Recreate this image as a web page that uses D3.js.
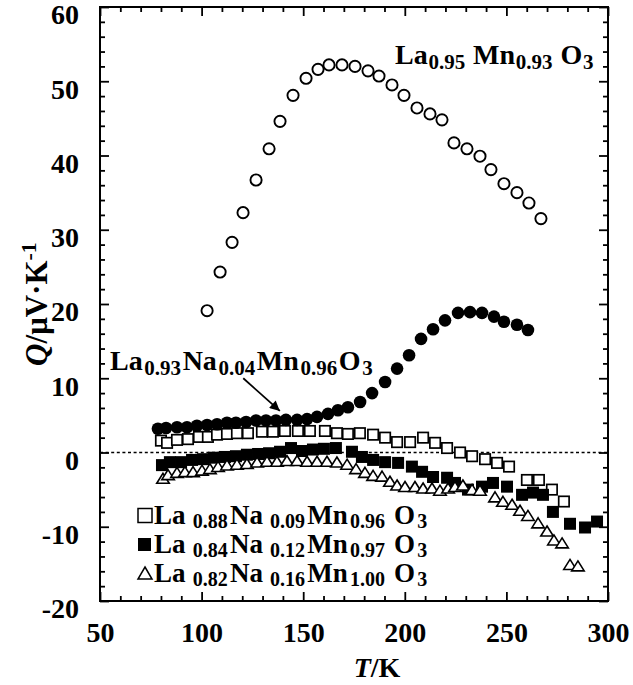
<!DOCTYPE html>
<html><head><meta charset="utf-8">
<script src="https://cdn.jsdelivr.net/npm/d3@7"></script>
<style>body{margin:0;background:#fff}</style>
</head><body><svg id="c" width="633" height="685"></svg>
<script>
// ---------- data ----------
const xTickValues = [50,100,150,200,250,300];
const yTickValues = [-20,-10,0,10,20,30,40,50,60];

// La0.95Mn0.93O3 (open circles)
const openCircT = [102.7,109.1,115.0,120.4,126.8,133.2,138.6,145.0,151.4,157.3,162.7,169.1,175.5,181.9,187.3,193.7,199.6,206.0,212.4,218.3,224.2,230.6,237.0,242.4,248.8,255.2,261.1,267.0];
const openCircQ = [19.1,24.3,28.3,32.3,36.7,40.9,44.6,48.1,50.4,51.6,52.2,52.2,52.0,51.4,50.7,49.5,48.1,46.4,45.6,44.8,41.7,40.9,39.9,38.1,36.2,35.0,33.6,31.5];

// La0.93Na0.04Mn0.96O3 (filled circles)
const filledCircT = [78.5,82.5,87.9,92.8,97.7,102.7,107.6,112.5,116.9,121.9,126.8,131.7,136.6,141.5,147.0,151.9,156.8,162.2,167.1,172.0,178.0,183.9,190.3,196.2,202.1,208.0,213.9,219.8,226.2,232.1,238.0,243.9,248.8,255.2,260.6];
const filledCircQ = [3.2,3.3,3.4,3.4,3.6,3.7,3.8,4.0,4.0,4.1,4.3,4.3,4.3,4.4,4.4,4.5,4.8,5.2,5.7,6.1,6.8,8.0,9.5,11.3,13.1,15.3,16.6,17.8,18.8,18.9,18.8,18.3,17.6,17.2,16.5];

// La0.88Na0.09Mn0.96O3 (open squares)
const openSqT = [80.0,83.0,87.9,93.3,98.7,103.1,107.6,112.5,117.4,122.8,129.7,135.1,141.0,147.4,153.3,160.7,166.6,172.0,177.9,184.4,190.3,196.2,202.6,209.0,214.9,220.8,227.2,233.1,239.5,245.4,251.3,260.1,266.0,272.4,278.3];
const openSqQ = [1.6,1.3,1.7,1.8,2.1,2.1,2.4,2.5,2.6,2.6,2.8,2.8,2.9,2.9,2.9,2.9,2.6,2.5,2.6,2.4,2.0,1.4,1.4,2.0,1.3,0.6,0.0,-0.5,-0.9,-1.4,-1.9,-3.7,-3.7,-5.0,-6.6];

// La0.84Na0.12Mn0.97O3 (filled squares)
const filledSqT = [80.5,84.4,89.9,95.3,100.7,106.1,111.5,116.9,122.3,127.8,133.2,138.6,144.0,149.4,154.8,160.2,166.1,174.0,178.9,184.4,190.3,196.7,203.5,208.5,213.9,220.8,224.7,231.1,238.0,243.4,250.3,257.7,263.1,268.0,272.9,281.3,288.7,294.6];
const filledSqQ = [-1.7,-1.3,-1.3,-1.0,-0.9,-0.7,-0.6,-0.5,-0.3,-0.2,-0.1,0.1,0.6,0.2,0.4,0.5,0.6,0.1,-0.6,-1.0,-1.3,-1.4,-1.9,-2.6,-3.3,-3.4,-4.1,-5.0,-4.6,-4.1,-4.6,-5.7,-5.4,-5.7,-8.0,-9.6,-10.1,-9.3];

// La0.82Na0.16Mn1.00O3 (open triangles)
const triT = [81.0,83.5,87.9,91.8,95.8,100.2,104.1,108.1,112.5,117.4,122.3,127.3,132.2,137.1,142.0,147.0,151.9,156.8,161.7,166.6,171.6,176.0,180.4,184.4,188.8,192.7,196.2,200.1,205.0,209.0,213.4,217.3,221.3,224.7,228.6,233.1,237.0,244.4,248.3,252.8,256.7,260.6,265.6,270.0,273.4,277.4,281.3,285.2];
const triQ = [-3.7,-3.2,-2.9,-2.8,-2.8,-2.6,-2.4,-2.1,-1.9,-1.8,-1.7,-1.5,-1.4,-1.4,-1.3,-1.3,-1.4,-1.4,-1.4,-1.5,-1.8,-2.4,-2.9,-3.3,-3.4,-4.1,-4.6,-4.8,-4.8,-5.0,-5.0,-5.3,-5.0,-4.8,-4.6,-5.2,-5.3,-6.2,-6.8,-7.2,-8.0,-8.7,-9.7,-10.8,-12.0,-12.4,-15.3,-15.5];

// labels
const labelTop = [["La",0],["0.95",1],[" Mn",0],["0.93",1],[" O",0],["3",1]];
const labelNa04 = [["La",0],["0.93",1],["Na",0],["0.04",1],["Mn",0],["0.96",1],["O",0],["3",1]];
const legendRows = [
  {sym:"openSq",  parts:[["La",0],[" 0.88",1],["Na",0],[" 0.09",1],["Mn",0],["0.96",1],[" O",0],["3",1]]},
  {sym:"filledSq",parts:[["La",0],[" 0.84",1],["Na",0],[" 0.12",1],["Mn",0],["0.97",1],[" O",0],["3",1]]},
  {sym:"tri",     parts:[["La",0],[" 0.82",1],["Na",0],[" 0.16",1],["Mn",0],["1.00",1],[" O",0],["3",1]]}
];

// ---------- drawing ----------
const FONT = "Liberation Serif, Times New Roman, serif";
const svg = d3.select("#c");
const L=100, R=608, T=7, B=601;
const x = d3.scaleLinear([50,300],[L,R]);
const y = d3.scaleLinear([-20,60],[B,T]);

function zip(a,b){return a.map((v,i)=>({t:v,q:b[i]}));}

const minorX = d3.range(50,301,10).filter(v=>v%50!==0);
const minorY = d3.range(-20,61,2).filter(v=>v%10!==0);

function styleAxis(g){
  g.attr("font-family",FONT);
  g.select(".domain").remove();
  g.selectAll(".tick line").attr("stroke","#000").attr("stroke-width",1.8);
  g.selectAll("text").attr("font-family",FONT).attr("font-weight","bold").attr("font-size",28).attr("fill","#000");
}
const fmt = d=>String(d);
svg.append("g").attr("transform",`translate(0,${B})`)
  .call(d3.axisBottom(x).tickValues(xTickValues).tickSize(-9).tickPadding(21).tickFormat(fmt)).call(styleAxis);
svg.append("g").attr("transform",`translate(0,${B})`)
  .call(d3.axisBottom(x).tickValues(minorX).tickSize(-5).tickFormat("")).call(styleAxis);
svg.append("g").attr("transform",`translate(0,${T})`)
  .call(d3.axisTop(x).tickValues(xTickValues).tickSize(-9).tickFormat("")).call(styleAxis);
svg.append("g").attr("transform",`translate(0,${T})`)
  .call(d3.axisTop(x).tickValues(minorX).tickSize(-5).tickFormat("")).call(styleAxis);
const ly = svg.append("g").attr("transform",`translate(${L},0)`)
  .call(d3.axisLeft(y).tickValues(yTickValues).tickSize(-9).tickPadding(21).tickFormat(fmt)).call(styleAxis);
ly.selectAll("text").attr("dy","0.6em");
svg.append("g").attr("transform",`translate(${L},0)`)
  .call(d3.axisLeft(y).tickValues(minorY).tickSize(-5).tickFormat("")).call(styleAxis);
svg.append("g").attr("transform",`translate(${R},0)`)
  .call(d3.axisRight(y).tickValues(yTickValues).tickSize(-9).tickFormat("")).call(styleAxis);
svg.append("g").attr("transform",`translate(${R},0)`)
  .call(d3.axisRight(y).tickValues(minorY).tickSize(-5).tickFormat("")).call(styleAxis);

// frame
svg.append("rect").attr("x",L).attr("y",T).attr("width",R-L).attr("height",B-T)
  .attr("fill","none").attr("stroke","#000").attr("stroke-width",2);

// zero dotted line
svg.append("line").attr("x1",x(50)).attr("x2",x(300)).attr("y1",y(0)).attr("y2",y(0))
  .attr("stroke","#000").attr("stroke-width",1.3).attr("stroke-dasharray","3,2.6");

// symbols
function triPath(w,h){return `M0,${-h*2/3}L${w/2},${h/3}L${-w/2},${h/3}Z`;}
function drawSym(g, type, cx, cy){
  if(type==="openCirc") g.append("circle").attr("cx",cx).attr("cy",cy).attr("r",5.6).attr("fill","#fff").attr("stroke","#000").attr("stroke-width",1.9);
  else if(type==="filledCirc") g.append("circle").attr("cx",cx).attr("cy",cy).attr("r",6.3).attr("fill","#000");
  else if(type==="openSq") g.append("rect").attr("x",cx-5.2).attr("y",cy-5.2).attr("width",10.4).attr("height",10.4).attr("fill","#fff").attr("stroke","#000").attr("stroke-width",1.7);
  else if(type==="filledSq") g.append("rect").attr("x",cx-6).attr("y",cy-6).attr("width",12).attr("height",12).attr("fill","#000");
  else if(type==="tri") g.append("path").attr("d",triPath(12.5,10)).attr("transform",`translate(${cx},${cy})`).attr("fill","#fff").attr("stroke","#000").attr("stroke-width",1.6);
}
const series = [
  ["openCirc", zip(openCircT,openCircQ)],
  ["openSq", zip(openSqT,openSqQ)],
  ["filledCirc", zip(filledCircT,filledCircQ)],
  ["filledSq", zip(filledSqT,filledSqQ)],
  ["tri", zip(triT,triQ)]
];
const gm = svg.append("g");
series.forEach(([type,data])=>{
  const g = gm.append("g");
  data.forEach(d=>drawSym(g,type,x(d.t),y(d.q)));
});

// formula helper: appends tspans for parts into text element t
function addParts(t, parts, subSize, subDy, gap, startX, startY){
  let low=false, first=true;
  parts.forEach(([s,sub])=>{
    const ts = t.append("tspan").text(s);
    if(first){ if(startX!=null) ts.attr("x",startX); if(startY!=null) ts.attr("y",startY); first=false; }
    else ts.attr("dx",gap);
    if(sub){ts.attr("font-size",subSize); if(!low){ts.attr("dy",subDy); low=true;}}
    else { if(low){ts.attr("dy",-subDy); low=false;} }
  });
}
function formula(px,py,parts,size,subSize,subDy,gap){
  const t = svg.append("text").attr("x",px).attr("y",py)
    .attr("font-family",FONT).attr("font-weight","bold").attr("font-size",size).attr("fill","#000")
    .style("white-space","pre");
  addParts(t,parts,subSize,subDy,gap,null,null);
  return t;
}

formula(395,64,labelTop,28,21,5,0.8);
formula(110,370,labelNa04,28,21,5,1.6);

// arrow
svg.append("defs").append("marker").attr("id","ah").attr("viewBox","0 0 10 10")
  .attr("refX",10).attr("refY",5).attr("markerWidth",14).attr("markerHeight",10)
  .attr("markerUnits","userSpaceOnUse").attr("orient","auto")
  .append("path").attr("d","M0,0L10,5L0,10Z").attr("fill","#000");
svg.append("line").attr("x1",x(120.5)).attr("y1",y(10.0)).attr("x2",x(138.5)).attr("y2",y(5.6))
  .attr("stroke","#000").attr("stroke-width",1.8).attr("marker-end","url(#ah)");

// legend (one multi-line text element)
const legBase = [524,553,582];
const lg = svg.append("g");
legendRows.forEach((r,i)=>{
  const cy = legBase[i]-8.5;
  if(r.sym==="openSq") lg.append("rect").attr("x",138).attr("y",cy-7).attr("width",14).attr("height",14).attr("fill","#fff").attr("stroke","#000").attr("stroke-width",1.5);
  else if(r.sym==="filledSq") lg.append("rect").attr("x",138).attr("y",cy-6.5).attr("width",13).attr("height",13).attr("fill","#000");
  else lg.append("path").attr("d",triPath(14,12)).attr("transform",`translate(145,${cy+1.5})`).attr("fill","#fff").attr("stroke","#000").attr("stroke-width",1.5);
});
const lt = svg.append("text").attr("font-family",FONT).attr("font-weight","bold").attr("font-size",27).attr("fill","#000").style("white-space","pre");
legendRows.forEach((r,i)=>addParts(lt,r.parts,20,3.5,2.2,154,legBase[i]));

// axis titles
const xt = svg.append("text").attr("x",377).attr("y",677).attr("text-anchor","middle")
  .attr("font-family",FONT).attr("font-weight","bold").attr("font-size",28);
xt.append("tspan").attr("font-style","italic").text("T");
xt.append("tspan").text("/K");

const yt = svg.append("text").attr("transform","translate(47,304) rotate(-90)").attr("text-anchor","middle")
  .attr("font-family",FONT).attr("font-weight","bold").attr("font-size",31);
yt.append("tspan").attr("font-style","italic").text("Q");
yt.append("tspan").text("/μV·K");
yt.append("tspan").attr("font-size",22).attr("dy",-11).text("-1");
</script></body></html>
